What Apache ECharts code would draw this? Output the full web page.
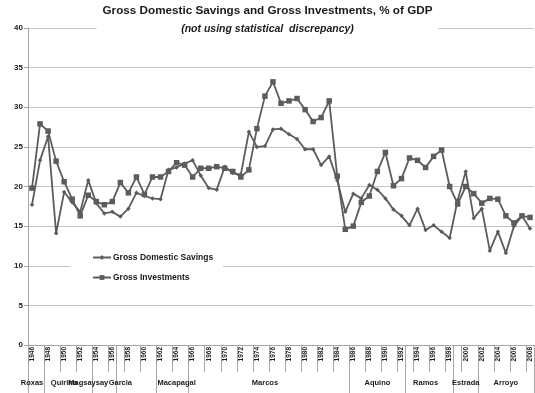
<!DOCTYPE html>
<html>
<head>
<meta charset="utf-8">
<script src="https://cdn.jsdelivr.net/npm/echarts@6/dist/echarts.min.js"></script>
<style>
  html, body { margin: 0; padding: 0; background: #fff; }
  #chart { width: 535px; height: 393px; }
</style>
</head>
<body>
<div id="chart"></div>
<script>
// Calendar years on the category axis
const years = [
  '1946','1947','1948','1949','1950','1951','1952','1953','1954','1955',
  '1956','1957','1958','1959','1960','1961','1962','1963','1964','1965',
  '1966','1967','1968','1969','1970','1971','1972','1973','1974','1975',
  '1976','1977','1978','1979','1980','1981','1982','1983','1984','1985',
  '1986','1987','1988','1989','1990','1991','1992','1993','1994','1995',
  '1996','1997','1998','1999','2000','2001','2002','2003','2004','2005',
  '2006','2007','2008'
];

// Gross domestic savings, % of GDP
const savings = [
  17.7, 23.3, 26.3, 14.1, 19.3, 18.0, 16.8, 20.8, 17.9, 16.6,
  16.8, 16.2, 17.2, 19.2, 18.8, 18.5, 18.4, 22.1, 22.4, 22.9,
  23.3, 21.4, 19.8, 19.6, 22.5, 21.7, 21.5, 26.9, 25.0, 25.1,
  27.2, 27.3, 26.6, 26.0, 24.7, 24.7, 22.7, 23.8, 20.8, 16.8,
  19.1, 18.5, 20.2, 19.6, 18.5, 17.1, 16.3, 15.1, 17.2, 14.5,
  15.1, 14.3, 13.5, 18.3, 21.9, 16.0, 17.2, 11.9, 14.3, 11.6,
  15.0, 16.3, 14.7
];

// Gross investments, % of GDP
const investments = [
  19.8, 27.9, 27.0, 23.2, 20.6, 18.4, 16.3, 18.9, 18.1, 17.7,
  18.1, 20.5, 19.2, 21.2, 19.0, 21.2, 21.2, 21.9, 23.0, 22.7,
  21.2, 22.3, 22.3, 22.5, 22.3, 21.9, 21.2, 22.1, 27.3, 31.4,
  33.2, 30.5, 30.8, 31.1, 29.7, 28.2, 28.7, 30.8, 21.3, 14.6,
  15.0, 18.0, 18.8, 21.9, 24.3, 20.1, 21.0, 23.6, 23.3, 22.4,
  23.8, 24.6, 20.0, 17.8, 20.0, 19.1, 17.9, 18.5, 18.4, 16.3,
  15.4, 16.3, 16.1
];

// Administrations: first year of each term and the year under which the name is printed
const presidents = ['Roxas','Quirino','Magsaysay','Garcia','Macapagal','Marcos','Aquino','Ramos','Estrada','Arroyo'];
const termStarts = ['1946','1948','1954','1957','1962','1966','1986','1993','1999','2002'];
const nameYears  = ['1946','1950','1953','1957','1964','1975','1989','1995','2000','2005'];

const yMin = 0, yMax = 40, yStep = 5;

const FONT = "'Liberation Sans', Arial, sans-serif";
const INK = '#1a1a1a';
const LINE = '#5c5c5c';
const AXIS = '#a6a6a6';

const chart = echarts.init(document.getElementById('chart'), null, { renderer: 'canvas' });

chart.setOption({
  animation: false,
  backgroundColor: '#fff',
  title: {
    text: 'Gross Domestic Savings and Gross Investments, % of GDP',
    subtext: '(not using statistical  discrepancy)',
    left: 'center',
    top: 3,
    padding: [2, 6, 3, 6],
    itemGap: 7,
    backgroundColor: '#fff',
    textStyle: { fontFamily: FONT, fontSize: 11.7, fontWeight: 'bold', color: INK },
    subtextStyle: { fontFamily: FONT, fontSize: 10.5, fontWeight: 'bold', fontStyle: 'italic', color: INK }
  },
  legend: {
    orient: 'vertical',
    left: 70,
    top: 250,
    padding: [3, 10, 3, 22],
    itemGap: 11,
    itemWidth: 18,
    itemHeight: 6,
    backgroundColor: '#fff',
    textStyle: { fontFamily: FONT, fontSize: 8.5, fontWeight: 'bold', color: INK, padding: [0, 0, 0, -3] },
    data: ['Gross Domestic Savings', 'Gross Investments']
  },
  grid: { left: 28, right: 1, top: 28, bottom: 48 },
  xAxis: [
    {
      type: 'category',
      position: 'bottom',
      data: years,
      boundaryGap: true,
      axisLine: { show: true, lineStyle: { color: AXIS, width: 1 } },
      axisTick: { show: true, interval: 1, length: 27, lineStyle: { color: AXIS, width: 1 } },
      axisLabel: {
        interval: 1, rotate: 90, margin: 2,
        fontFamily: FONT, fontSize: 6.5, fontWeight: 'bold', color: INK
      },
      splitLine: { show: false }
    },
    {
      type: 'category',
      position: 'bottom',
      data: years,
      boundaryGap: true,
      axisLine: { show: false },
      axisTick: {
        show: true,
        length: 48,
        interval: (i, v) => termStarts.includes(v),
        lineStyle: { color: AXIS, width: 1 }
      },
      axisLabel: {
        margin: 34,
        interval: (i, v) => nameYears.includes(v),
        formatter: v => presidents[nameYears.indexOf(v)] || '',
        fontFamily: FONT, fontSize: 7.5, fontWeight: 'bold', color: INK
      },
      splitLine: { show: false }
    }
  ],
  yAxis: {
    type: 'value',
    min: yMin, max: yMax, interval: yStep,
    axisLine: { show: true, lineStyle: { color: AXIS, width: 1 } },
    axisTick: { show: true, length: 4, lineStyle: { color: AXIS } },
    axisLabel: { margin: 5, fontFamily: FONT, fontSize: 8, fontWeight: 'bold', color: INK },
    splitLine: { show: true, lineStyle: { color: '#c4c4c4', width: 1.2 } }
  },
  series: [
    {
      name: 'Gross Domestic Savings',
      type: 'line',
      data: savings,
      symbol: 'diamond',
      symbolSize: 4.5,
      showAllSymbol: true,
      lineStyle: { color: LINE, width: 1.8 },
      itemStyle: { color: LINE, borderWidth: 0 }
    },
    {
      name: 'Gross Investments',
      type: 'line',
      data: investments,
      symbol: 'rect',
      symbolSize: 5.5,
      showAllSymbol: true,
      lineStyle: { color: LINE, width: 1.8 },
      itemStyle: { color: LINE, borderWidth: 0 }
    }
  ]
});
</script>
</body>
</html>
